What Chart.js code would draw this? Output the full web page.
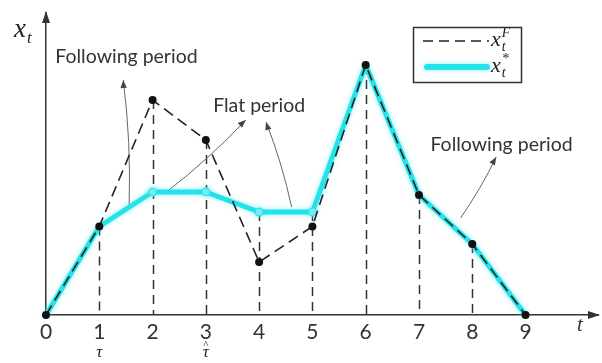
<!DOCTYPE html>
<html><head><meta charset="utf-8">
<script src="https://cdn.jsdelivr.net/npm/chart.js@4.4.0/dist/chart.umd.min.js"></script>
<style>html,body{margin:0;padding:0;background:#fff}#wrap{width:602px;height:363px;position:relative}</style>
</head><body><div id="wrap"><canvas id="c" width="602" height="363" style="width:602px;height:363px"></canvas></div>
<script>
// ---- data ----
const tValues = [0, 1, 2, 3, 4, 5, 6, 7, 8, 9];
const tickLabels = ['0', '1', '2', '3', '4', '5', '6', '7', '8', '9'];
const subLabels = ['', 'τ', '', 'τ', '', '', '', '', '', ''];
const subHats = [false, false, false, true, false, false, false, false, false, false];
const followSeries = [0, 8.85, 21.5, 17.5, 5.3, 8.85, 25.0, 12.0, 7.1, 0];
const optimalSeries = [0, 8.85, 12.3, 12.3, 10.3, 10.3, 25.0, 12.0, 7.1, 0];
const xMax = 10.36;
const yMax = 30.2;
const annotationTexts = ['Following period', 'Flat period', 'Following period'];
// text anchor (t, x) and arrows [fromT, fromX, toT, toX] in data units
const annotationAnchors = [[1.51, 25.8], [4.0, 20.9], [8.55, 17.0]];
const annotationArrows = [
  [[1.56, 11.0, 1.45, 23.5]],
  [[2.26, 12.3, 3.75, 19.5], [4.61, 10.8, 4.13, 19.3]],
  [[7.78, 9.7, 8.45, 15.8]]
];

const CYAN = '#22e2ea';
const INK = '#222';

function arrow(ctx, x1, y1, x2, y2) {
  ctx.save();
  ctx.strokeStyle = '#666'; ctx.fillStyle = '#444'; ctx.lineWidth = 1;
  ctx.beginPath(); ctx.moveTo(x1, y1);
  ctx.quadraticCurveTo((x1 + x2) / 2 - (y2 - y1) * 0.04, (y1 + y2) / 2 + (x2 - x1) * 0.04, x2, y2);
  ctx.stroke();
  const a = Math.atan2(y2 - y1, x2 - x1), L = 8, W = 3.2;
  ctx.beginPath();
  ctx.moveTo(x2, y2);
  ctx.lineTo(x2 - L * Math.cos(a) + W * Math.sin(a), y2 - L * Math.sin(a) - W * Math.cos(a));
  ctx.lineTo(x2 - L * Math.cos(a) - W * Math.sin(a), y2 - L * Math.sin(a) + W * Math.cos(a));
  ctx.closePath(); ctx.fill();
  ctx.restore();
}
function mathLabel(ctx, x, y, base, sub, sup, size) {
  const s = size || 22;
  ctx.save();
  ctx.fillStyle = INK; ctx.textBaseline = 'alphabetic'; ctx.textAlign = 'left';
  ctx.font = 'italic ' + s + 'px "Liberation Serif"';
  ctx.fillText(base, x, y);
  const w = ctx.measureText(base).width;
  ctx.font = 'italic ' + Math.round(s * 0.62) + 'px "Liberation Serif"';
  if (sub) ctx.fillText(sub, x + w + 1, y + s * 0.22);
  if (sup) ctx.fillText(sup, x + w + 1, y - s * 0.42);
  ctx.restore();
}

const decor = {
  id: 'decor',
  beforeDatasetsDraw(chart) {
    const {ctx, scales: {x, y}} = chart;
    ctx.save();
    ctx.strokeStyle = '#333'; ctx.lineWidth = 1.5; ctx.setLineDash([9, 6]);
    tValues.forEach((t, i) => {
      if (i === 0 || i === tValues.length - 1) return;
      const top = Math.max(followSeries[i], optimalSeries[i]);
      const px = Math.round(x.getPixelForValue(t)) + 0.5;
      ctx.beginPath(); ctx.moveTo(px, y.getPixelForValue(top)); ctx.lineTo(px, y.getPixelForValue(0)); ctx.stroke();
    });
    ctx.restore();
    annotationArrows.forEach(list => list.forEach(a => {
      arrow(ctx, x.getPixelForValue(a[0]), y.getPixelForValue(a[1]), x.getPixelForValue(a[2]), y.getPixelForValue(a[3]));
    }));
  },
  beforeDatasetDraw(chart, args) {
    if (args.index === 1) {
      chart.ctx.save();
      chart.ctx.shadowColor = 'rgba(60,230,240,0.55)';
      chart.ctx.shadowBlur = 5;
    }
  },
  afterDatasetDraw(chart, args) {
    if (args.index === 1) chart.ctx.restore();
  },
  afterDraw(chart) {
    const {ctx, chartArea: ca, scales: {x, y}} = chart;
    const y0 = y.getPixelForValue(0), x0 = x.getPixelForValue(0);
    ctx.save();
    ctx.fillStyle = '#333';
    ctx.beginPath(); ctx.moveTo(x0, ca.top - 2); ctx.lineTo(x0 - 4, ca.top + 10); ctx.lineTo(x0 + 4, ca.top + 10); ctx.closePath(); ctx.fill();
    ctx.beginPath(); ctx.moveTo(ca.right + 2, y0); ctx.lineTo(ca.right - 10, y0 - 4); ctx.lineTo(ca.right - 10, y0 + 4); ctx.closePath(); ctx.fill();
    ctx.font = 'italic 17px "Liberation Serif"'; ctx.textAlign = 'center'; ctx.textBaseline = 'middle'; ctx.fillStyle = INK;
    tValues.forEach((t, i) => {
      if (!subLabels[i]) return;
      const px = x.getPixelForValue(t);
      ctx.fillText(subLabels[i], px, y0 + 38);
      if (subHats[i]) {
        ctx.save(); ctx.font = '11px "Liberation Serif"'; ctx.fillText('^', px, y0 + 30); ctx.restore();
      }
    });
    mathLabel(ctx, 14, 37, 'x', 't', null, 27);
    ctx.font = 'italic 21px "Liberation Serif"'; ctx.textAlign = 'center'; ctx.fillStyle = '#333';
    ctx.fillText('t', 580, y0 + 10);
    ctx.font = '19.5px Lato'; ctx.fillStyle = '#333'; ctx.textAlign = 'center'; ctx.textBaseline = 'middle';
    annotationTexts.forEach((s, i) => ctx.fillText(s, x.getPixelForValue(annotationAnchors[i][0]), y.getPixelForValue(annotationAnchors[i][1])));
    // legend
    ctx.fillStyle = '#fff'; ctx.fillRect(413, 27, 109, 56);
    ctx.strokeStyle = '#333'; ctx.lineWidth = 1.5; ctx.strokeRect(413.5, 27.5, 108, 55);
    ctx.setLineDash([10, 6]); ctx.lineWidth = 1.5; ctx.strokeStyle = '#222';
    ctx.beginPath(); ctx.moveTo(423, 41); ctx.lineTo(489, 41); ctx.stroke();
    ctx.setLineDash([]);
    ctx.strokeStyle = CYAN; ctx.lineWidth = 6; ctx.lineCap = 'round';
    ctx.shadowColor = 'rgba(60,230,240,0.55)'; ctx.shadowBlur = 5;
    ctx.beginPath(); ctx.moveTo(427, 67); ctx.lineTo(487, 67); ctx.stroke();
    ctx.shadowBlur = 0;
    mathLabel(ctx, 491, 46, 'x', 't', 'F', 22);
    mathLabel(ctx, 491, 72, 'x', 't', '*', 22);
    ctx.restore();
  }
};

new Chart(document.getElementById('c'), {
  type: 'line',
  data: {
    datasets: [
      {
        label: 'x_t^F',
        data: tValues.map((t, i) => ({x: t, y: followSeries[i]})),
        borderColor: '#222', borderWidth: 1.6, borderDash: [11, 6],
        pointRadius: 4, pointBackgroundColor: '#111', pointBorderWidth: 0,
        tension: 0, clip: false
      },
      {
        label: 'x_t^*',
        data: tValues.map((t, i) => ({x: t, y: optimalSeries[i]})),
        borderColor: CYAN, borderWidth: 5, borderJoinStyle: 'round', borderCapStyle: 'round',
        pointRadius: c => (followSeries[c.dataIndex] !== optimalSeries[c.dataIndex] ? 4 : 0),
        pointBackgroundColor: '#7eeef2', pointBorderColor: CYAN, pointBorderWidth: 1,
        tension: 0, clip: false
      }
    ]
  },
  options: {
    responsive: false, animation: false,
    devicePixelRatio: 1,
    layout: {padding: {left: 0, right: 2, top: 13, bottom: 0}},
    plugins: {legend: {display: false}, tooltip: {enabled: false}},
    scales: {
      x: {
        type: 'linear', min: 0, max: xMax,
        grid: {display: false, drawTicks: false},
        border: {display: true, color: '#333', width: 1.5},
        afterBuildTicks: s => { s.ticks = tValues.map(v => ({value: v})); },
        afterFit: s => { s.height = 48; },
        ticks: {
          autoSkip: false, maxRotation: 0, padding: 5, color: '#333',
          font: {family: 'Lato', size: 21},
          callback: (v) => tickLabels[tValues.indexOf(v)]
        }
      },
      y: {
        min: 0, max: yMax,
        grid: {display: false, drawTicks: false},
        border: {display: true, color: '#333', width: 1.5},
        ticks: {display: false},
        afterFit: s => { s.width = 46; }
      }
    }
  },
  plugins: [decor]
});
</script>
</body></html>
